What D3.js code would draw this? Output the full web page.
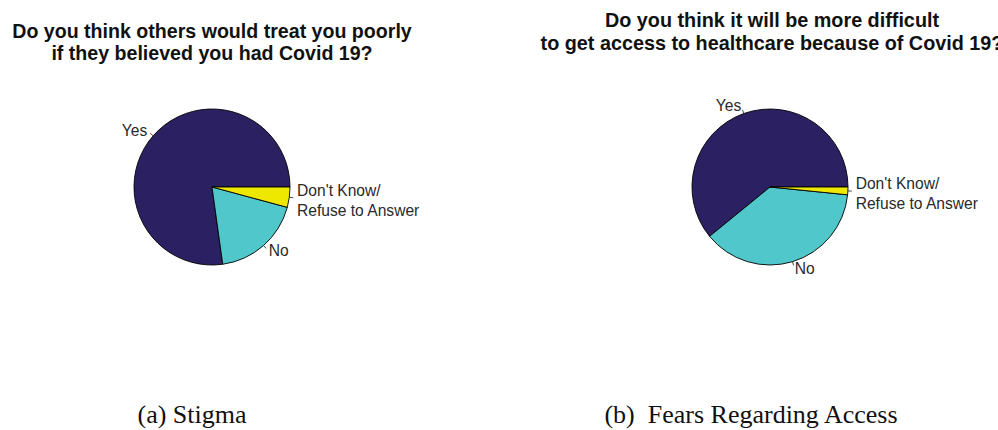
<!DOCTYPE html>
<html>
<head>
<meta charset="utf-8">
<script src="https://cdn.jsdelivr.net/npm/d3@7"></script>
<style>
  html, body { margin: 0; padding: 0; background: #fff; }
  svg { display: block; }
</style>
</head>
<body>
<svg id="chart" width="998" height="430"></svg>
<script>
// Response categories (same order in both panels, drawn counter-clockwise from 3 o'clock)
const categories = ["Yes", "No", "Don't Know/\nRefuse to Answer"];
const categoryColors = ["#2b2162", "#50c7ca", "#eee800"];

// Percent of respondents per answer
const stigmaValues = [77.2, 18.6, 4.2];
const accessValues = [60.9, 37.5, 1.6];

// Panel titles and captions
const stigmaTitle = ["Do you think others would treat you poorly", "if they believed you had Covid 19?"];
const accessTitle = ["Do you think it will be more difficult", "to get access to healthcare because of Covid 19?"];
const captions = ["(a) Stigma", "(b)  Fears Regarding Access"];

const svg = d3.select("#chart");
svg.append("rect").attr("width", 998).attr("height", 430).attr("fill", "#fff");

const radius = 78;
const color = d3.scaleOrdinal().domain(categories).range(categoryColors);

// Counter-clockwise from the 3 o'clock position
const pie = d3.pie()
  .sort(null)
  .value(d => d.value)
  .startAngle(Math.PI / 2)
  .endAngle(Math.PI / 2 - 2 * Math.PI);

const arc = d3.arc().innerRadius(0).outerRadius(radius);

function drawPanel(cfg) {
  const g = svg.append("g");

  // Two-line bold title
  const title = g.append("text")
    .attr("x", cfg.titleX)
    .attr("y", cfg.titleY)
    .attr("text-anchor", "middle")
    .style("font-family", "'Liberation Sans', Arial, sans-serif")
    .style("font-weight", "bold")
    .style("font-size", cfg.titleSize + "px")
    .attr("fill", "#111");
  cfg.title.forEach((line, i) => {
    title.append("tspan")
      .attr("x", cfg.titleX)
      .attr("dy", i === 0 ? 0 : cfg.titleGap)
      .text(line);
  });

  const data = categories.map((c, i) => ({ key: c, value: cfg.values[i] }));
  const arcs = pie(data);

  const pg = g.append("g").attr("transform", `translate(${cfg.cx},${cfg.cy})`);

  pg.selectAll("path.slice")
    .data(arcs)
    .join("path")
    .attr("class", "slice")
    .attr("d", arc)
    .attr("fill", d => color(d.data.key))
    .attr("stroke", "#000")
    .attr("stroke-width", 0.9)
    .attr("stroke-linejoin", "round");

  // Label ticks from r to 1.05r, text at 1.1r
  const pos = (a, k) => [Math.sin(a) * radius * k, -Math.cos(a) * radius * k];

  pg.selectAll("line.tick")
    .data(arcs)
    .join("line")
    .attr("class", "tick")
    .each(function (d) {
      const m = (d.startAngle + d.endAngle) / 2;
      const p1 = pos(m, 1), p2 = pos(m, 1.05);
      d3.select(this)
        .attr("x1", p1[0]).attr("y1", p1[1])
        .attr("x2", p2[0]).attr("y2", p2[1]);
    })
    .attr("stroke", "#333")
    .attr("stroke-width", 0.9);

  const lineH = 19.5;
  pg.selectAll("text.lbl")
    .data(arcs)
    .join("text")
    .attr("class", "lbl")
    .style("font-family", "'Liberation Sans', Arial, sans-serif")
    .style("font-size", "15.6px")
    .attr("fill", "#2a2a2a")
    .each(function (d) {
      const m = (d.startAngle + d.endAngle) / 2;
      const p = pos(m, 1.1);
      const lines = d.data.key.split("\n");
      const t = d3.select(this)
        .attr("text-anchor", p[0] < 0 ? "end" : "start");
      const y0 = p[1] - (lines.length - 1) * lineH / 2 + 5 + (lines.length > 1 ? 2.5 : 0);
      lines.forEach((ln, i) => {
        t.append("tspan")
          .attr("x", p[0])
          .attr("y", y0 + i * lineH)
          .text(ln);
      });
    });

  // Sub-figure caption
  g.append("text")
    .attr("x", cfg.capX)
    .attr("y", 423)
    .attr("text-anchor", "middle")
    .style("font-family", "'Liberation Serif', 'Times New Roman', serif")
    .style("font-size", "26px")
    .style("white-space", "pre")
    .attr("fill", "#111")
    .text(cfg.caption);
}

drawPanel({
  title: stigmaTitle, titleX: 212, titleY: 38, titleGap: 22, titleSize: 19.6,
  values: stigmaValues, cx: 212, cy: 187,
  caption: captions[0], capX: 192
});

drawPanel({
  title: accessTitle, titleX: 772, titleY: 27, titleGap: 23, titleSize: 19.8,
  values: accessValues, cx: 770, cy: 187,
  caption: captions[1], capX: 751
});
</script>
</body>
</html>
